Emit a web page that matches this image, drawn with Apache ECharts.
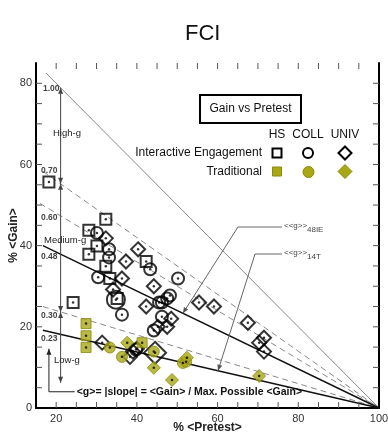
<!DOCTYPE html>
<html>
<head>
<meta charset="utf-8">
<script src="https://cdn.jsdelivr.net/npm/echarts@6/dist/echarts.min.js"></script>
<style>
  html, body { margin: 0; padding: 0; background: #fff; }
  #chart { width: 388px; height: 433px; }
</style>
</head>
<body>
<div id="chart"></div>
<script>
// data: [pretest %, gain %]
const ieHS = [[18.2,55.7],[32.3,46.5],[28.1,43.8],[30.1,39.9],[28.1,37.9],[32.3,34.9],[42.3,36.1],[33.3,31.9],[35.1,27.0],[24.2,26.0]];
const ieColl = [[30.1,43.1],[33.1,39.1],[33.1,37.1],[30.4,32.2],[43.3,34.2],[50.2,31.9],[48.2,27.7],[47.5,27.0],[45.5,26.0],[46.2,26.0],[36.3,23.0],[46.2,22.5],[44.2,19.1],[39.8,14.4]];
const ieCollBig = [[34.8,26.7]];
const ieUniv = [[32.3,41.8],[40.3,39.1],[37.3,36.1],[36.3,31.9],[44.2,30.0],[34.1,29.2],[42.3,25.0],[48.5,22.0],[45.2,20.0],[47.5,20.0],[55.4,26.0],[59.1,25.0],[67.5,21.0],[71.5,17.3],[70.3,16.1],[71.5,13.9],[31.4,16.1],[39.0,13.9],[38.3,12.6],[40.0,14.6]];
const ieUnivBig = [[44.5,13.6]];
const trHS = [[27.4,20.8],[27.4,17.8],[27.4,14.9],[41.3,16.1]];
const trColl = [[33.3,14.9],[36.3,12.6],[44.2,13.9],[51.4,11.1],[52.2,11.4]];
const trUniv = [[37.6,16.1],[44.2,9.9],[48.7,6.9],[70.3,7.9],[52.4,12.4]];

// normalized gain lines <g>, gain = g * (100 - pretest)
const gValues = [1.00, 0.70, 0.60, 0.48, 0.30, 0.23];
const gStarts = [17.5, 16.7, 16.0, 16.7, 16.7, 16.7];
const gLabels = ['1.00', '0.70', '0.60', '0.48', '0.30', '0.23'];

const xTicks = [20, 40, 60, 80, 100];
const yTicks = [0, 20, 40, 60, 80];

const FONT = 'Liberation Sans, Arial, sans-serif';
const OLIVE = '#a9a814';

let chart = echarts.init(document.getElementById('chart'));

function gLine(i) {
    let g = gValues[i];
    let x0 = gStarts[i];
    let style;
    if (g === 1) style = { color: '#888', width: 1, type: 'solid' };
    else if (g === 0.48 || g === 0.23) style = { color: '#111', width: 1.4, type: 'solid' };
    else style = { color: '#888', width: 1, type: [6, 4] };
    return {
        type: 'line', data: [[x0, g * (100 - x0)], [100, 0]],
        symbol: 'none', lineStyle: style, z: 1, silent: true
    };
}

function openSeries(data, symbol, size) {
    return {
        type: 'scatter', data: data, symbol: symbol, symbolSize: size, z: 3,
        itemStyle: { color: 'rgba(255,255,255,0)', borderColor: '#000', borderWidth: 2 }
    };
}
function fillSeries(data, symbol, size) {
    return {
        type: 'scatter', data: data, symbol: symbol, symbolSize: size, z: 4,
        itemStyle: { color: OLIVE, borderColor: '#8a8a10', borderWidth: 1 }
    };
}
function dotSeries(data) {
    return {
        type: 'scatter', data: data, symbol: 'circle', symbolSize: 2.5, z: 5,
        itemStyle: { color: '#000' }
    };
}

let allPts = [].concat(ieHS, ieColl, ieCollBig, ieUniv, ieUnivBig, trHS, trColl, trUniv);

let axisCommon = {
    type: 'value', interval: 5,
    axisLine: { show: true, lineStyle: { color: '#000', width: 2 } },
    axisTick: { show: false },
    splitLine: { show: false }
};

let option = {
    animation: false,
    backgroundColor: '#fff',
    title: {
        text: 'FCI', left: 180, top: 18,
        textStyle: { fontFamily: FONT, fontSize: 22, fontWeight: 'normal', color: '#111' }
    },
    grid: { left: 36, right: 9, top: 63, bottom: 25, containLabel: false, outerBoundsMode: 'none' },
    xAxis: [
        Object.assign({}, axisCommon, {
            min: 15, max: 100, position: 'bottom',
            name: '% <Pretest>', nameLocation: 'middle', nameGap: 14, nameMoveOverlap: false,
            nameTextStyle: { fontFamily: FONT, fontSize: 12, fontWeight: 'bold', color: '#222' },
            axisLabel: {
                fontFamily: FONT, fontSize: 11, color: '#333', margin: 5,
                formatter: v => xTicks.indexOf(v) >= 0 ? String(v) : ''
            }
        }),
        Object.assign({}, axisCommon, {
            min: 15, max: 100, position: 'top',
            axisLine: { show: true, lineStyle: { color: '#000', width: 1.5 } },
            axisLabel: { show: false }
        })
    ],
    yAxis: [
        Object.assign({}, axisCommon, {
            min: 0, max: 85, position: 'left',
            name: '% <Gain>', nameLocation: 'middle', nameGap: 16, nameRotate: 90, nameMoveOverlap: false,
            nameTextStyle: { fontFamily: FONT, fontSize: 12, fontWeight: 'bold', color: '#222' },
            axisLabel: {
                fontFamily: FONT, fontSize: 11, color: '#333', margin: 4,
                formatter: v => yTicks.indexOf(v) >= 0 ? String(v) : ''
            }
        }),
        Object.assign({}, axisCommon, {
            min: 0, max: 85, position: 'right',
            axisLabel: { show: false }
        })
    ],
    series: gValues.map((g, i) => gLine(i)).concat([
        openSeries(ieHS, 'rect', 11),
        openSeries(ieColl, 'circle', 12),
        openSeries(ieCollBig, 'circle', 18),
        openSeries(ieUniv, 'diamond', 14),
        openSeries(ieUnivBig, 'diamond', 22),
        fillSeries(trHS, 'rect', 10),
        fillSeries(trColl, 'circle', 11),
        fillSeries(trUniv, 'diamond', 13),
        dotSeries(allPts)
    ])
};
chart.setOption(option);

// annotations
function P(x, y) { return chart.convertToPixel({ gridIndex: 0 }, [x, y]); }
function txt(x, y, s, size, opts) {
    return {
        type: 'text', x: x, y: y, z: 20, silent: true,
        style: Object.assign({ text: s, fontFamily: FONT, fontSize: size, fill: '#222',
            textAlign: 'left', textVerticalAlign: 'middle' }, opts || {})
    };
}
function seg(pts, color, width) {
    return { type: 'polyline', z: 10, silent: true, shape: { points: pts },
        style: { stroke: color || '#555', lineWidth: width || 1, fill: null } };
}
function arrow(tip, dir, color) {
    let x = tip[0], y = tip[1], pts;
    if (dir === 'up') pts = [[x, y], [x - 2.5, y + 6], [x + 2.5, y + 6]];
    else if (dir === 'down') pts = [[x, y], [x - 2.5, y - 6], [x + 2.5, y - 6]];
    else {
        let dx = dir[0], dy = dir[1], L = Math.hypot(dx, dy);
        let ux = dx / L, uy = dy / L;
        let bx = x - ux * 6, by = y - uy * 6;
        pts = [[x, y], [bx - uy * 2.5, by + ux * 2.5], [bx + uy * 2.5, by - ux * 2.5]];
    }
    return { type: 'polygon', z: 11, silent: true, shape: { points: pts }, style: { fill: color || '#444' } };
}

let g = [];

// inward ticks on all four sides, every 5 units
let x0px = P(15, 0)[0], x1px = P(100, 0)[0];
let y0px = P(15, 0)[1], y1px = P(15, 85)[1];
for (let v = 20; v < 100; v += 5) {
    let px = P(v, 0)[0];
    g.push(seg([[px, y0px], [px, y0px - 6]], '#555', 1));
    g.push(seg([[px, y1px], [px, y1px + 6]], '#555', 1));
}
for (let v = 5; v < 85; v += 5) {
    let py = P(15, v)[1];
    g.push(seg([[x0px, py], [x0px + 6, py]], '#555', 1));
    g.push(seg([[x1px, py], [x1px - 6, py]], '#555', 1));
}

// vertical range bar at pretest 21.1
let vx = P(21.1, 0)[0];
let yTop = P(21.1, 1.0 * 78.9)[1];
let y70 = P(21.1, 0.70 * 78.9)[1];
let y30 = P(21.1, 0.30 * 78.9)[1];
let yBot = P(21.1, 6.2)[1];
g.push(seg([[vx, yTop], [vx, yBot]], '#444', 1));
g.push(arrow([vx, yTop], 'up'));
g.push(arrow([vx, y70], 'down'));
g.push(arrow([vx, y70], 'up'));
g.push(arrow([vx, y30], 'down'));
g.push(arrow([vx, y30], 'up'));
g.push(arrow([vx, yBot], 'down'));

// g labels
let labY = [89, 171, 218, 257, 316, 339];
gLabels.forEach((s, i) => g.push(txt(i === 0 ? 43 : 41, labY[i], s, 8.5, { fontWeight: 'bold', fill: '#444' })));
g.push(txt(53, 133, 'High-g', 9.5));
g.push(txt(44, 240, 'Medium-g', 9.5));
g.push(txt(54, 360, 'Low-g', 9.5));

// bottom explanation with leader
let b0 = P(18.2, 4.0), b1 = P(24.6, 4.0), bTip = P(18.2, 14.6);
g.push(seg([[b1[0], b1[1]], [b0[0], b0[1]], [bTip[0], bTip[1]]], '#222', 1));
g.push(arrow([bTip[0], bTip[1]], 'up', '#222'));
g.push(txt(b1[0] + 2, b1[1], '<g>= |slope| = <Gain> / Max. Possible <Gain>', 10.5, { fontWeight: 'bold', fill: '#111' }));

// leaders for <<g>> labels
function leader(g0, xTipPre, kneePx, endPx, sub) {
    let tip = P(xTipPre, g0 * (100 - xTipPre));
    g.push(seg([[endPx[0], endPx[1]], [kneePx[0], kneePx[1]], [tip[0], tip[1]]], '#666', 1));
    g.push(arrow([tip[0], tip[1]], [tip[0] - kneePx[0], tip[1] - kneePx[1]], '#555'));
    g.push(txt(endPx[0] + 2, endPx[1] - 1, '<<g>>', 8, { fill: '#444' }));
    g.push(txt(endPx[0] + 25, endPx[1] + 3, sub, 8, { fill: '#444' }));
}
leader(0.48, 51.4, [238, 227], [282, 227], '48IE');
leader(0.23, 60.1, [255, 254], [282, 254], '14T');

// legend block
g.push({ type: 'rect', z: 10, shape: { x: 200, y: 95, width: 101, height: 28 },
    style: { stroke: '#000', lineWidth: 2, fill: '#fff' } });
g.push(txt(250.5, 109, 'Gain vs Pretest', 12, { textAlign: 'center', fill: '#111' }));
g.push(txt(277, 135, 'HS', 12, { textAlign: 'center', fill: '#111' }));
g.push(txt(308, 135, 'COLL', 12, { textAlign: 'center', fill: '#111' }));
g.push(txt(345, 135, 'UNIV', 12, { textAlign: 'center', fill: '#111' }));
g.push(txt(262, 153, 'Interactive Engagement', 12, { textAlign: 'right', fill: '#111' }));
g.push(txt(262, 172, 'Traditional', 12, { textAlign: 'right', fill: '#111' }));
let open = { stroke: '#000', lineWidth: 2, fill: '#fff' };
let fill = { stroke: '#8a8a10', lineWidth: 1, fill: OLIVE };
g.push({ type: 'rect', z: 10, shape: { x: 272.5, y: 148.5, width: 9, height: 9 }, style: open });
g.push({ type: 'circle', z: 10, shape: { cx: 308, cy: 153, r: 5 }, style: open });
g.push({ type: 'polygon', z: 10, shape: { points: [[345, 146.5], [351.5, 153], [345, 159.5], [338.5, 153]] }, style: open });
g.push({ type: 'rect', z: 10, shape: { x: 272.5, y: 167, width: 9, height: 9 }, style: fill });
g.push({ type: 'circle', z: 10, shape: { cx: 308.5, cy: 172, r: 5.5 }, style: fill });
g.push({ type: 'polygon', z: 10, shape: { points: [[345, 164.5], [352, 171.5], [345, 178.5], [338, 171.5]] }, style: fill });

chart.setOption({ graphic: g });
</script>
</body>
</html>
